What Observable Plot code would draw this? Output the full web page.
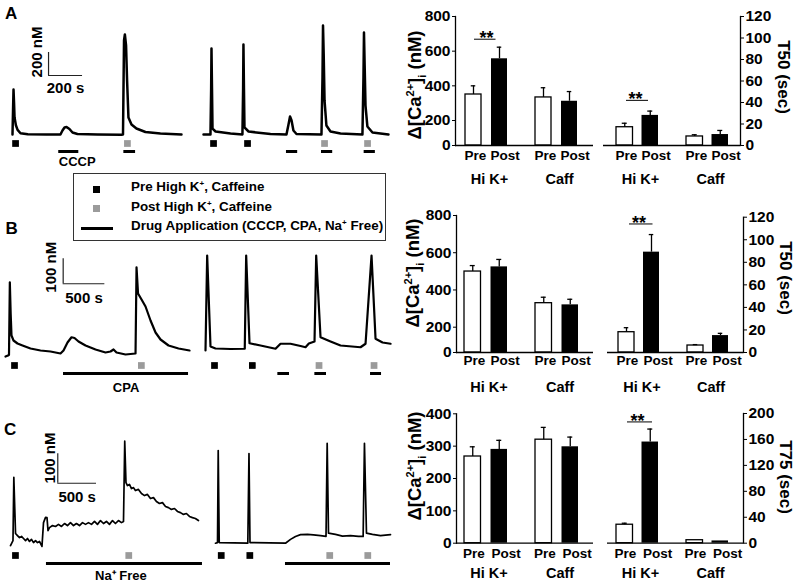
<!DOCTYPE html>
<html><head><meta charset="utf-8">
<script src="https://cdn.jsdelivr.net/npm/d3@7"></script>
<script src="https://cdn.jsdelivr.net/npm/@observablehq/plot@0.6"></script>
<style>
body{margin:0;background:#fff;font-family:"Liberation Sans",Arial,sans-serif;}
#root{position:relative;width:800px;height:585px;overflow:hidden;background:#fff;}
.t{position:absolute;font-weight:bold;white-space:nowrap;color:#000;}
.rot{transform:translate(-50%,-50%) rotate(-90deg);}
.rot90{transform:translate(-50%,-50%) rotate(90deg);}
.sup{font-size:11px;vertical-align:super;line-height:0;}
.sub{font-size:11px;vertical-align:sub;line-height:0;}
.lsup{font-size:8px;vertical-align:5px;line-height:0;}
</style></head><body><div id="root"></div>
<script>
// ---------- DATA ----------
const groups = ["Hi K+", "Caff"];

// traces: [time (s), [Ca2+]i (nM)]
const traceA1 = [[0,100],[3,300],[6,491],[9,380],[12,248],[20,180],[30,140],[47,111],[90,102],[200,100],[282,100],[294,135],[306,161],[318,165],[335,148],[353,117],[382,104],[500,100],[640,98],[650,100],[656,918],[661,970],[668,874],[674,570],[682,248],[700,187],[729,152],[782,122],[870,109],[994,100]];
const traceA2 = [[0,100],[41,100],[45,500],[47,848],[50,500],[53,152],[71,126],[159,109],[229,100],[233,500],[235,883],[238,500],[241,161],[265,126],[394,104],[488,100],[500,187],[509,257],[518,222],[529,135],[547,104],[694,100],[700,600],[703,1048],[707,800],[712,396],[723,178],[747,126],[806,109],[935,100],[941,600],[944,987],[948,700],[953,352],[964,170],[994,117],[1088,100]];
const traceB1 = [[0,88],[30,92],[42,95],[52,385],[62,260],[72,172],[96,152],[144,140],[204,132],[300,120],[420,112],[540,108],[660,100],[696,112],[744,144],[792,165],[828,162],[876,148],[960,132],[1080,116],[1200,104],[1260,108],[1296,116],[1332,104],[1440,96],[1560,100],[1572,445],[1590,340],[1632,316],[1680,288],[1740,232],[1800,184],[1860,156],[1956,132],[2076,120],[2208,112]];
const traceB2 = [[0,112],[20,492],[60,128],[120,120],[300,118],[471,119],[488,492],[528,141],[660,132],[840,119],[900,139],[1020,139],[1140,130],[1200,125],[1240,140],[1308,148],[1328,492],[1380,165],[1500,148],[1620,132],[1860,125],[1920,139],[1992,492],[2040,159],[2124,144],[2220,139]];
const traceC1 = [[0,93],[32,110],[43,325],[65,134],[90,127],[116,120],[142,124],[168,117],[194,110],[219,117],[245,107],[271,114],[297,103],[323,110],[348,103],[374,107],[406,90],[426,171],[452,189],[471,188],[484,144],[503,154],[542,161],[581,158],[619,165],[658,158],[697,168],[735,161],[774,171],[813,161],[851,168],[890,161],[929,171],[968,165],[1006,171],[1045,165],[1084,175],[1122,165],[1161,178],[1200,168],[1238,175],[1277,165],[1316,178],[1354,168],[1393,178],[1432,171],[1458,175],[1474,448],[1490,307],[1509,297],[1535,301],[1561,287],[1587,290],[1612,280],[1651,284],[1690,270],[1729,263],[1767,267],[1806,253],[1845,256],[1883,243],[1922,236],[1961,239],[2000,226],[2038,222],[2077,216],[2116,219],[2154,209],[2193,205],[2232,199],[2270,202],[2309,192],[2348,188],[2386,185],[2425,178]];
const traceC2 = [[0,100],[26,102],[35,415],[48,102],[417,100],[432,405],[445,102],[903,100],[968,113],[1032,123],[1097,129],[1187,130],[1264,128],[1355,126],[1426,123],[1441,440],[1458,134],[1548,130],[1638,124],[1742,126],[1845,123],[1905,123],[1922,440],[1948,134],[2025,130],[2129,126],[2258,129]];

// stimulus times (s) and drug applications
const preA1 = [18], postA1 = [676];
const drugA1 = [{label:"CCCP", t1:272, t2:390}, {label:"", t1:655, t2:724}];
const preA2 = [59, 259], postA2 = [712, 965];
const drugA2 = [{label:"", t1:488, t2:554}, {label:"", t1:694, t2:760}, {label:"", t1:945, t2:1011}];
const preB1 = [108], postB1 = [1630];
const drugB1 = [{label:"CPA", t1:696, t2:2196}];
const preB2 = [108, 562], postB2 = [1362, 2022];
const drugB2 = [{label:"", t1:868, t2:1008}, {label:"", t1:1312, t2:1452}, {label:"", t1:1980, t2:2112}];
const preC1 = [64], postC1 = [1526];
const drugC1 = [{label:"Na\u207A Free", t1:464, t2:2477}];
const preC2 = [74, 443], postC2 = [1474, 1965];
const drugC2 = [{label:"", t1:903, t2:2258}];

// scale bars
const scaleA = {t:212, ca:613, dt:200, dca:200, tLabel:"200 s", caLabel:"200 nM"};
const scaleB = {t:692, ca:379, dt:500, dca:100, tLabel:"500 s", caLabel:"100 nM"};
const scaleC = {t:610, ca:305, dt:500, dca:100, tLabel:"500 s", caLabel:"100 nM"};

// bar data: [Hi K+, Caff]
const caA_pre = [350, 333], caA_preErr = [50, 56], caA_post = [556, 311], caA_postErr = [67, 56];
const tA_pre = [17, 8.4], tA_preErr = [3.7, 1.6], tA_post = [28, 10.2], tA_postErr = [4, 3.8];
const caB_pre = [499, 329], caB_preErr = [32, 32], caB_post = [524, 320], caB_postErr = [40, 30];
const tB_pre = [18, 6.2], tB_preErr = [4, 0.8], tB_post = [89, 15], tB_postErr = [15.6, 2];
const caC_pre = [268, 320], caC_preErr = [30, 38], caC_post = [290, 298], caC_postErr = [28, 30];
const tC_pre = [28.5, 4.6], tC_preErr = [2.3, 0], tC_post = [156, 3.5], tC_postErr = [20, 0];
const sigA_ca = [{group:"Hi K+", y:669}], sigA_t = [{group:"Hi K+", y:42}];
const sigB_t = [{group:"Hi K+", y:114}], sigC_t = [{group:"Hi K+", y:187}];

// ---------- DRAWING ----------
const root = document.getElementById("root");
const baseStyle = {fontFamily:'"Liberation Sans", Arial, sans-serif', fontWeight:"bold", fontSize:"15px", color:"black", background:"transparent", overflow:"visible"};
function place(node, L, T) {
  node.style.position = "absolute"; node.style.left = L + "px"; node.style.top = T + "px";
  root.appendChild(node);
}
function html(str, css, cls) {
  const d = document.createElement("div"); d.className = "t " + (cls || ""); d.innerHTML = str; d.style.cssText += css; root.appendChild(d);
}

function tracePanel(c) {
  const marks = [Plot.line(c.data, {x:d=>d[0], y:d=>d[1], stroke:"black", strokeWidth:c.lw, strokeLinejoin:"round"})];
  if (c.sb) {
    marks.push(
      Plot.ruleX([c.sb], {x:"t", y1:"ca", y2:d=>d.ca+d.dca, stroke:"#222", strokeWidth:1.2}),
      Plot.ruleY([c.sb], {y:"ca", x1:"t", x2:d=>d.t+d.dt, stroke:"#222", strokeWidth:1.2}),
      Plot.text([c.sb], {x:"t", y:d=>d.ca+d.dca/2, text:"caLabel", rotate:-90, dx:c.sbDx, dy:c.sbDy, fontSize:15}),
      Plot.text([c.sb], {x:d=>d.t+d.dt/2, y:"ca", text:"tLabel", dy:c.sbTy, fontSize:15})
    );
  }
  place(Plot.plot({
    width:c.W, height:c.H, margin:0,
    x:{domain:c.tDom, range:[c.xr[0]-c.L, c.xr[1]-c.L], axis:null},
    y:{domain:c.caDom, range:[c.yr[0]-c.T, c.yr[1]-c.T], axis:null},
    marks, style:baseStyle
  }), c.L, c.T);
}

function lanePanel(c) {
  const labeled = c.drugs.filter(d => d.label);
  place(Plot.plot({
    width:c.W, height:c.H, margin:0,
    x:{domain:c.tDom, range:[c.xr[0]-c.L, c.xr[1]-c.L], axis:null},
    y:{type:"point", domain:["stim","drug"], range:[c.yStim-c.T, c.yDrug-c.T], padding:0, axis:null},
    marks:[
      Plot.dot(c.pre, {x:d=>d, y:()=>"stim", symbol:"square", r:3.8, fill:"black"}),
      Plot.dot(c.post, {x:d=>d, y:()=>"stim", symbol:"square", r:3.8, fill:"#9b9b9b"}),
      Plot.ruleY(c.drugs, {x1:"t1", x2:"t2", y:()=>"drug", stroke:"black", strokeWidth:3}),
      Plot.text(labeled, {x:d=>c.anchor==="start" ? d.t1 : (d.t1+d.t2)/2, y:()=>"drug", text:"label", dy:c.labelDy, dx:c.labelDx||0, textAnchor:c.anchor||"middle", fontSize:13})
    ],
    style:baseStyle
  }), c.L, c.T);
}

function barPanel(c) {
  const rows = groups.map((g,i)=>({group:g, pre:c.pre[i], preHi:c.pre[i]+c.preErr[i], post:c.post[i], postHi:c.post[i]+c.postErr[i]}));
  const bw = (c.xr[1]-c.xr[0])/2, edge = 14, barW = 16.5, inner = bw-edge-barW;
  const cPre = edge+barW/2, cPost = bw-edge-barW/2, cap = 2.5;
  const marks = [
    Plot.barY(rows, {x:"group", y:"pre", fill:"white", stroke:"black", strokeWidth:1.3, insetLeft:edge, insetRight:inner}),
    Plot.barY(rows, {x:"group", y:"post", fill:"black", insetLeft:inner, insetRight:edge}),
    Plot.ruleX(rows.filter(r=>r.preHi>r.pre), {x:"group", y1:"pre", y2:"preHi", dx:cPre-bw/2, strokeWidth:1.3}),
    Plot.tickY(rows.filter(r=>r.preHi>r.pre), {x:"group", y:"preHi", insetLeft:cPre-cap, insetRight:bw-cPre-cap, strokeWidth:1.3}),
    Plot.ruleX(rows.filter(r=>r.postHi>r.post), {x:"group", y1:"post", y2:"postHi", dx:cPost-bw/2, strokeWidth:1.3}),
    Plot.tickY(rows.filter(r=>r.postHi>r.post), {x:"group", y:"postHi", insetLeft:cPost-cap, insetRight:bw-cPost-cap, strokeWidth:1.3}),
    Plot.ruleY([0], {stroke:"black", strokeWidth:1.3}),
    Plot.frame({anchor:c.side, stroke:"black", strokeWidth:1.3}),
    Plot.axisY({anchor:c.side, ticks:c.ticks, tickSize:3, tickPadding:2, label:null, fontSize:15.5}),
    Plot.axisX({tickSize:0, tickPadding:c.gPad, label:null, fontSize:14.5, dx:3}),
    Plot.text(groups, {x:d=>d, text:()=>"Pre", frameAnchor:"bottom", dy:c.pDy, dx:c.preDx, fontSize:13.5}),
    Plot.text(groups, {x:d=>d, text:()=>"Post", frameAnchor:"bottom", dy:c.pDy, dx:c.postDx, fontSize:13.5})
  ];
  if (c.sig) {
    marks.push(
      Plot.tickY(c.sig, {x:"group", y:"y", insetLeft:c.sigIn[0], insetRight:c.sigIn[1], strokeWidth:1}),
      Plot.text(c.sig, {x:"group", y:"y", text:()=>"**", dy:-1, dx:c.sigDx, fontSize:18})
    );
  }
  place(Plot.plot({
    width:c.W, height:c.H,
    marginLeft:c.fl-c.L, marginRight:c.L+c.W-c.fr, marginTop:c.ft-c.T, marginBottom:c.T+c.H-c.fb,
    x:{type:"band", domain:groups, range:[c.xr[0]-c.L, c.xr[1]-c.L], padding:0},
    y:{type:"linear", domain:c.yDom, range:c.yRng.map(v=>v-c.T)},
    marks, style:baseStyle
  }), c.L, c.T);
}

// ----- Row A -----
tracePanel({L:0, T:15, W:195, H:125, data:traceA1, lw:2.5, tDom:[0,1000], xr:[12,182], caDom:[100,1100], yr:[134,19], sb:scaleA, sbDx:-11.5, sbDy:-12, sbTy:12.5});
tracePanel({L:195, T:15, W:200, H:125, data:traceA2, lw:2.5, tDom:[0,1000], xr:[203,373], caDom:[100,1100], yr:[134,19]});
lanePanel({L:0, T:136, W:195, H:34, tDom:[0,1000], xr:[12,182], yStim:142.7, yDrug:151, pre:preA1, post:postA1, drugs:drugA1, anchor:"start", labelDy:10});
lanePanel({L:195, T:136, W:200, H:24, tDom:[0,1000], xr:[203,373], yStim:142.7, yDrug:151, pre:preA2, post:postA2, drugs:drugA2});
barPanel({L:420, T:0, W:180, H:190, fl:455, fr:593, ft:16, fb:145, yDom:[0,200,800], yRng:[145,120,16], ticks:[0,200,400,600,800], side:"left", xr:[450,591], pre:caA_pre, preErr:caA_preErr, post:caA_post, postErr:caA_postErr, gPad:28, pDy:14, preDx:-11, postDx:18.5, sig:sigA_ca, sigIn:[23,25.5], sigDx:0});
barPanel({L:595, T:0, W:180, H:190, fl:603, fr:740, ft:16, fb:145, yDom:[0,120], yRng:[145,16], ticks:[0,20,40,60,80,100,120], side:"right", xr:[602,742], pre:tA_pre, preErr:tA_preErr, post:tA_post, postErr:tA_postErr, gPad:28, pDy:14, preDx:-11, postDx:18.5, sig:sigA_t, sigIn:[24,24], sigDx:-2});

// ----- Row B -----
tracePanel({L:0, T:245, W:200, H:115, data:traceB1, lw:2.2, tDom:[0,2000], xr:[5,171.7], caDom:[100,600], yr:[353,228], sb:scaleB, sbDx:-12, sbDy:-4, sbTy:14});
tracePanel({L:195, T:245, W:200, H:115, data:traceB2, lw:2.2, tDom:[0,2000], xr:[205,371.7], caDom:[100,600], yr:[353,228]});
lanePanel({L:0, T:358, W:200, H:38, tDom:[0,2000], xr:[5,171.7], yStim:364.8, yDrug:373.5, pre:preB1, post:postB1, drugs:drugB1, labelDy:14.5});
lanePanel({L:195, T:358, W:200, H:22, tDom:[0,2000], xr:[205,371.7], yStim:364.8, yDrug:373.5, pre:preB2, post:postB2, drugs:drugB2});
barPanel({L:420, T:200, W:180, H:200, fl:456, fr:593, ft:215, fb:352, yDom:[0,200,800], yRng:[352,326.7,215], ticks:[0,200,400,600,800], side:"left", xr:[450,592], pre:caB_pre, preErr:caB_preErr, post:caB_post, postErr:caB_postErr, gPad:29, pDy:12, preDx:-11.5, postDx:19});
barPanel({L:595, T:200, W:180, H:200, fl:607, fr:743, ft:216.7, fb:352, yDom:[0,120], yRng:[352,216.7], ticks:[0,20,40,60,80,100,120], side:"right", xr:[603,742], pre:tB_pre, preErr:tB_preErr, post:tB_post, postErr:tB_postErr, gPad:29, pDy:12, preDx:-11.5, postDx:19, sig:sigB_t, sigIn:[25,20.5], sigDx:0});

// ----- Row C -----
tracePanel({L:0, T:430, W:205, H:120, data:traceC1, lw:1.7, tDom:[0,2000], xr:[10,165], caDom:[100,400], yr:[543,454.8], sb:scaleC, sbDx:-7.3, sbDy:-10.5, sbTy:14});
tracePanel({L:200, T:430, W:195, H:120, data:traceC2, lw:1.7, tDom:[0,2000], xr:[215,370], caDom:[100,400], yr:[542.7,454.5]});
lanePanel({L:0, T:548, W:210, H:37, tDom:[0,2000], xr:[10,165], yStim:554.3, yDrug:562.7, pre:preC1, post:postC1, drugs:drugC1, labelDy:12.3, labelDx:-3.5});
lanePanel({L:200, T:548, W:195, H:20, tDom:[0,2000], xr:[215,370], yStim:554.3, yDrug:562.7, pre:preC2, post:postC2, drugs:drugC2});
barPanel({L:420, T:395, W:180, H:190, fl:456, fr:593, ft:413.3, fb:542.7, yDom:[0,400], yRng:[542.7,413.3], ticks:[0,100,200,300,400], side:"left", xr:[450,592], pre:caC_pre, preErr:caC_preErr, post:caC_post, postErr:caC_postErr, gPad:24.5, pDy:14.6, preDx:-12, postDx:20});
barPanel({L:595, T:395, W:180, H:190, fl:607, fr:743, ft:413, fb:542.7, yDom:[0,200], yRng:[542.7,413], ticks:[0,40,80,120,160,200], side:"right", xr:[602,742], pre:tC_pre, preErr:tC_preErr, post:tC_post, postErr:tC_postErr, gPad:24.5, pDy:14.6, preDx:-12, postDx:20, sig:sigC_t, sigIn:[25,20], sigDx:0});

// ----- Titles, panel letters, legend -----
const caTitle = 'Δ[Ca<span class="sup">2+</span>]<span class="sub">i</span> (nM)';
html(caTitle, "left:415px;top:85px;font-size:18.5px;", "rot");
html(caTitle, "left:413px;top:273px;font-size:18.5px;", "rot");
html(caTitle, "left:415px;top:466px;font-size:18.5px;", "rot");
html("T50 (sec)", "left:783px;top:77px;font-size:17px;", "rot90");
html("T50 (sec)", "left:785px;top:278px;font-size:17px;", "rot90");
html("T75 (sec)", "left:785px;top:477px;font-size:17px;", "rot90");
html("A", "left:5px;top:4.8px;font-size:17px;line-height:17px;");
html("B", "left:5.5px;top:219.5px;font-size:17px;line-height:17px;");
html("C", "left:4px;top:421px;font-size:17px;line-height:17px;");

const box = document.createElement("div");
box.style.cssText = "position:absolute;left:73px;top:173px;width:311px;height:66px;border:1.4px solid #333;";
root.appendChild(box);
const sq = (L, T, col) => { const s = document.createElement("div"); s.style.cssText = `position:absolute;left:${L}px;top:${T}px;width:7px;height:7px;background:${col};`; root.appendChild(s); };
sq(92.5, 185.8, "#000"); sq(92.5, 204.8, "#9b9b9b");
const ln = document.createElement("div"); ln.style.cssText = "position:absolute;left:81px;top:226.5px;width:32px;height:3.5px;background:#000;"; root.appendChild(ln);
html('Pre High K<span class="lsup">+</span>, Caffeine', "left:131px;top:179px;font-size:13.4px;line-height:16px;");
html('Post High K<span class="lsup">+</span>, Caffeine', "left:131px;top:199px;font-size:13.4px;line-height:16px;");
html('Drug Application (CCCP, CPA, Na<span class="lsup">+</span> Free)', "left:131px;top:218px;font-size:13.4px;line-height:16px;");
</script></body></html>
